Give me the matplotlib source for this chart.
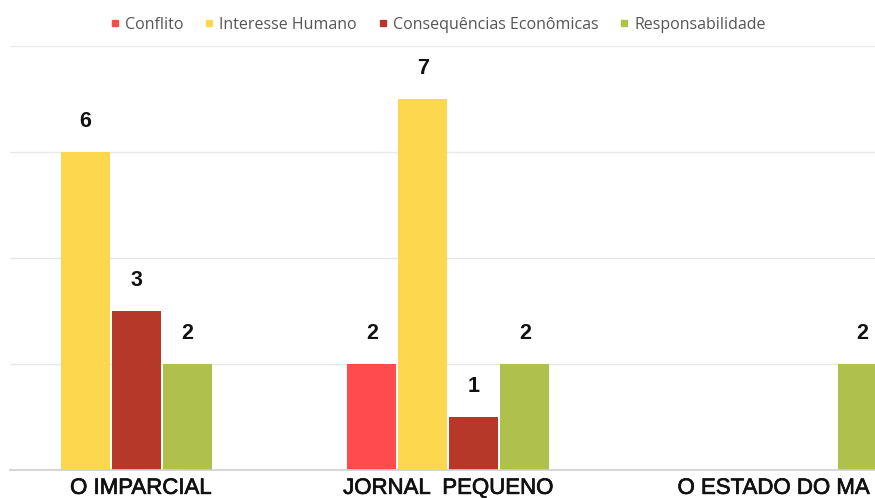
import matplotlib.pyplot as plt
import matplotlib.patheffects as pe
from matplotlib.lines import Line2D
import numpy as np

jornais = ["O IMPARCIAL", "JORNAL  PEQUENO", "O ESTADO DO MA"]
categorias = ["Conflito", "Interesse Humano", "Consequências Econômicas", "Responsabilidade"]
conflito = [0, 2, 0]
interesse_humano = [6, 7, 0]
consequencias = [3, 1, 0]
responsabilidade = [2, 2, 2]

cores = ["#FF4B4E", "#FDD84F", "#B63828", "#B0C04C"]
series = [conflito, interesse_humano, consequencias, responsabilidade]

fig = plt.figure(figsize=(8.75, 4.98), dpi=100)
W, H = 875, 498
# eixo ocupa de x=10px ate a borda direita (grafico recortado)
ax = fig.add_axes([10 / W, (H - 470) / H, 865 / W, (470 - 46) / H])

x = np.arange(len(jornais))
passo = 0.151
largura = 0.145
for i, (vals, cor) in enumerate(zip(series, cores)):
    pos = x + (i - 1.5) * passo
    ax.bar(pos, vals, width=largura, color=cor, zorder=3)
    for p, v in zip(pos, vals):
        if v > 0:
            ax.text(p, v + 0.38, str(v), ha="center", va="bottom",
                    fontsize=15.5, fontweight="bold", family="Liberation Sans",
                    color="#111111")

ax.set_xlim(-0.299, 2.264)
ax.set_ylim(0, 8)
ax.set_yticks([0, 2, 4, 6, 8])
ax.yaxis.grid(True, color="#e8e8e8", linewidth=1, zorder=0)
ax.tick_params(left=False, labelleft=False, bottom=False, labelbottom=False)
for s in ["top", "right", "left"]:
    ax.spines[s].set_visible(False)
ax.spines["bottom"].set_color("#cfcfcf")
ax.spines["bottom"].set_linewidth(1.2)
ax.spines["bottom"].set_zorder(4)

# rotulos dos jornais (nao ficam centralizados no original)
deslocamento = [0.089, 0.0, -0.036]
for xi, nome, d in zip(x, jornais, deslocamento):
    ax.text(xi + d, -0.45, nome, ha="center", va="baseline", fontsize=16,
            family="Liberation Sans", color="#111111",
            path_effects=[pe.withStroke(linewidth=0.5, foreground="#111111")],
            transform=ax.transData, clip_on=False)

handles = [Line2D([0], [0], marker="s", linestyle="", markersize=5,
                  markerfacecolor=c, markeredgecolor=c) for c in cores]
fig.legend(handles, categorias, loc="center", bbox_to_anchor=(438 / W, 1 - 25 / H),
           ncol=4, frameon=False, handlelength=0.6, handletextpad=0.35,
           columnspacing=1.3, prop={"family": "Open Sans", "size": 11.5},
           labelcolor="#555555")

fig.savefig("out.png", dpi=100)
